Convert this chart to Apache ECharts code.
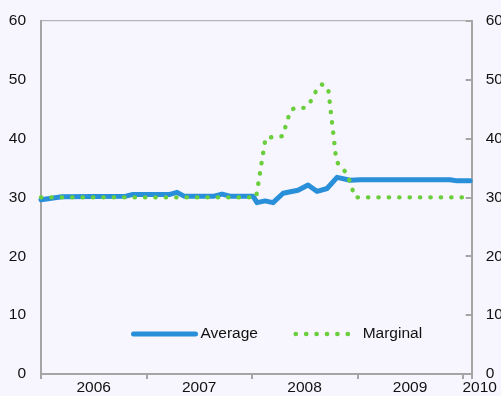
<!DOCTYPE html>
<html><head><meta charset="utf-8">
<script src="https://cdn.jsdelivr.net/npm/echarts@6/dist/echarts.min.js"></script>
<style>html,body{margin:0;padding:0;background:#F7F5FD}#c{width:501px;height:396px}</style>
</head><body><div id="c"></div>
<script>
// Tick labels
const yearLabels = ['2006', '2007', '2008', '2009', '2010'];
const yTickValues = [0, 10, 20, 30, 40, 50, 60];
const seriesNames = ['Average', 'Marginal'];

// Average (dates as decimal years, values in per cent)
const averageDates = [2006.000, 2006.199, 2006.806, 2006.873, 2007.224, 2007.290, 2007.357, 2007.641, 2007.717, 2007.793,
  2008.011, 2008.049, 2008.125, 2008.201, 2008.296, 2008.438, 2008.533, 2008.619, 2008.713, 2008.808,
  2008.932, 2009.027, 2009.880, 2009.947, 2010.070];
const averageValues = [29.6, 30.1, 30.2, 30.5, 30.5, 30.85, 30.2, 30.2, 30.55, 30.2,
  30.2, 29.1, 29.4, 29.1, 30.7, 31.2, 32.1, 31.0, 31.5, 33.4,
  32.9, 33.0, 33.0, 32.8, 32.8];

// Marginal
const marginalDates = [2006.000, 2008.040, 2008.130, 2008.291, 2008.367, 2008.410, 2008.505, 2008.571, 2008.609, 2008.661,
  2008.723, 2008.802, 2008.849, 2008.903, 2008.979, 2010.070];
const marginalValues = [30.0, 30.0, 40.1, 40.4, 44.8, 45.2, 45.2, 46.6, 48.1, 49.2,
  48.6, 36.1, 35.1, 34.0, 30.0, 30.0];

const xMin = 2006, xMax = 2010.085;
const axisGray = '#A5A5A5';
const blue = '#2A8FD9';
const green = '#6BCF3D';
const font = 'Liberation Sans, Arial, sans-serif';
const fs = 15.5;

const pair = (xs, ys) => xs.map((x, i) => [x, ys[i]]);

const chart = echarts.init(document.getElementById('c'), null, {renderer: 'canvas'});
chart.setOption({
  backgroundColor: '#F7F5FD',
  animation: false,
  textStyle: {fontFamily: font},
  grid: {left: 41, right: 29.3, top: 20.7, bottom: 22, containLabel: false, outerBoundsMode: 'none',
    show: true, borderColor: axisGray, borderWidth: 1, backgroundColor: 'transparent'},
  legend: {
    left: 126, top: 321, itemWidth: 62, itemHeight: 14, itemGap: 35.5,
    textStyle: {fontSize: fs, color: '#111', fontFamily: font},
    itemStyle: {opacity: 0, borderWidth: 0},
    data: [
      {name: seriesNames[0], lineStyle: {width: 5}, itemStyle: {opacity: 0, borderWidth: 0}},
      {name: seriesNames[1], lineStyle: {width: 4.4}, itemStyle: {opacity: 0, borderWidth: 0}}
    ]
  },
  xAxis: [
    {
      type: 'value', min: xMin, max: xMax, interval: 1, position: 'bottom',
      axisLine: {show: true, lineStyle: {color: axisGray, width: 2}},
      axisTick: {show: true, inside: false, length: 5, lineStyle: {color: axisGray, width: 2}},
      axisLabel: {show: false},
      splitLine: {show: false}
    },
    {
      type: 'value', min: xMin, max: xMax, interval: 0.5, position: 'bottom',
      axisLine: {show: false}, axisTick: {show: false}, splitLine: {show: false},
      axisLabel: {
        show: true, margin: 6, fontSize: fs, color: '#111', fontFamily: font,
        showMinLabel: true, showMaxLabel: false,
        formatter: function (v) {
          const k = Math.round((v - xMin) * 2);
          if (Math.abs((v - xMin) * 2 - k) > 1e-6) return '';
          if (k % 2 === 1) return yearLabels[(k - 1) / 2] || '';
          if (k === 8) return '{l|' + yearLabels[4] + '}';
          return '';
        },
        rich: {l: {fontSize: fs, color: '#111', fontFamily: font, padding: [0, 0, 0, 34]}}
      }
    }
  ],
  yAxis: [
    {
      type: 'value', min: 0, max: 60, interval: 10, position: 'left',
      axisLine: {show: true, lineStyle: {color: axisGray, width: 2}},
      axisTick: {show: false},
      splitLine: {show: false},
      axisLabel: {margin: 15, fontSize: fs, color: '#111', fontFamily: font,
        formatter: v => yTickValues.includes(v) ? String(v) : ''}
    },
    {
      type: 'value', min: 0, max: 60, interval: 10, position: 'right',
      axisLine: {show: true, lineStyle: {color: axisGray, width: 2}},
      axisTick: {show: true, inside: true, length: 6, lineStyle: {color: axisGray, width: 2}},
      splitLine: {show: false},
      axisLabel: {margin: 14, fontSize: fs, color: '#111', fontFamily: font, align: 'left',
        formatter: v => yTickValues.includes(v) ? String(v) : ''}
    }
  ],
  series: [
    {
      name: seriesNames[0], type: 'line', xAxisIndex: 0, yAxisIndex: 0,
      data: pair(averageDates, averageValues),
      symbol: 'none', showSymbol: false, color: blue, z: 2,
      lineStyle: {color: blue, width: 5, cap: 'round', join: 'round'}
    },
    {
      name: seriesNames[1], type: 'line', xAxisIndex: 0, yAxisIndex: 0,
      data: pair(marginalDates, marginalValues),
      symbol: 'none', showSymbol: false, color: green, z: 3,
      lineStyle: {color: green, width: 4.4, type: [0.3, 10.1], cap: 'round', join: 'round'}
    }
  ]
});
</script></body></html>
